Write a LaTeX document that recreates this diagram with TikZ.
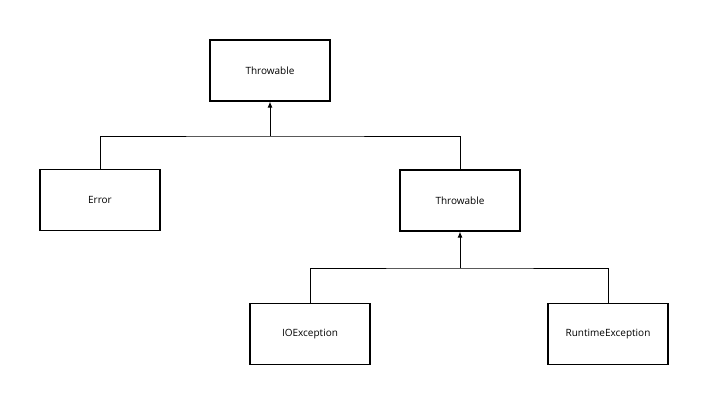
\documentclass[tikz,border=0pt]{standalone}
\usepackage{fontspec}
\setmainfont{Open Sans}
\usetikzlibrary{arrows.meta}
\begin{document}
\begin{tikzpicture}[x=1pt, y=-1pt,
    classbox/.style={draw, line width=1.1pt, minimum width=120pt, minimum height=61pt,
        inner sep=0pt, font=\fontsize{10}{12}\selectfont},
    link/.style={line width=1pt},
    inherit/.style={line width=1pt, -{Latex[length=6pt, width=5pt]}}]
    \useasboundingbox (0,0) rectangle (711,405);
    % Draw the classes
    \node[classbox] (throwable) at (270,70.5) {Throwable};
    \node[classbox] (error) at (100,200) {Error};
    \node[classbox] (subthrow) at (460,200.5) {Throwable};
    \node[classbox] (ioexc) at (310,334) {IOException};
    \node[classbox] (rtexc) at (608,334) {RuntimeException};
    % Junction points
    \coordinate (J1) at (270,136);
    \coordinate (J2) at (460,268);
    % Draw the edges
    \draw[link] (error.north) |- (J1) -| (subthrow.north);
    \draw[inherit] (J1) -- (throwable.south); % Error, Throwable
    \draw[link] (ioexc.north) |- (J2) -| (rtexc.north);
    \draw[inherit] (J2) -- (subthrow.south); % IOException, RuntimeException
\end{tikzpicture}
\end{document}
